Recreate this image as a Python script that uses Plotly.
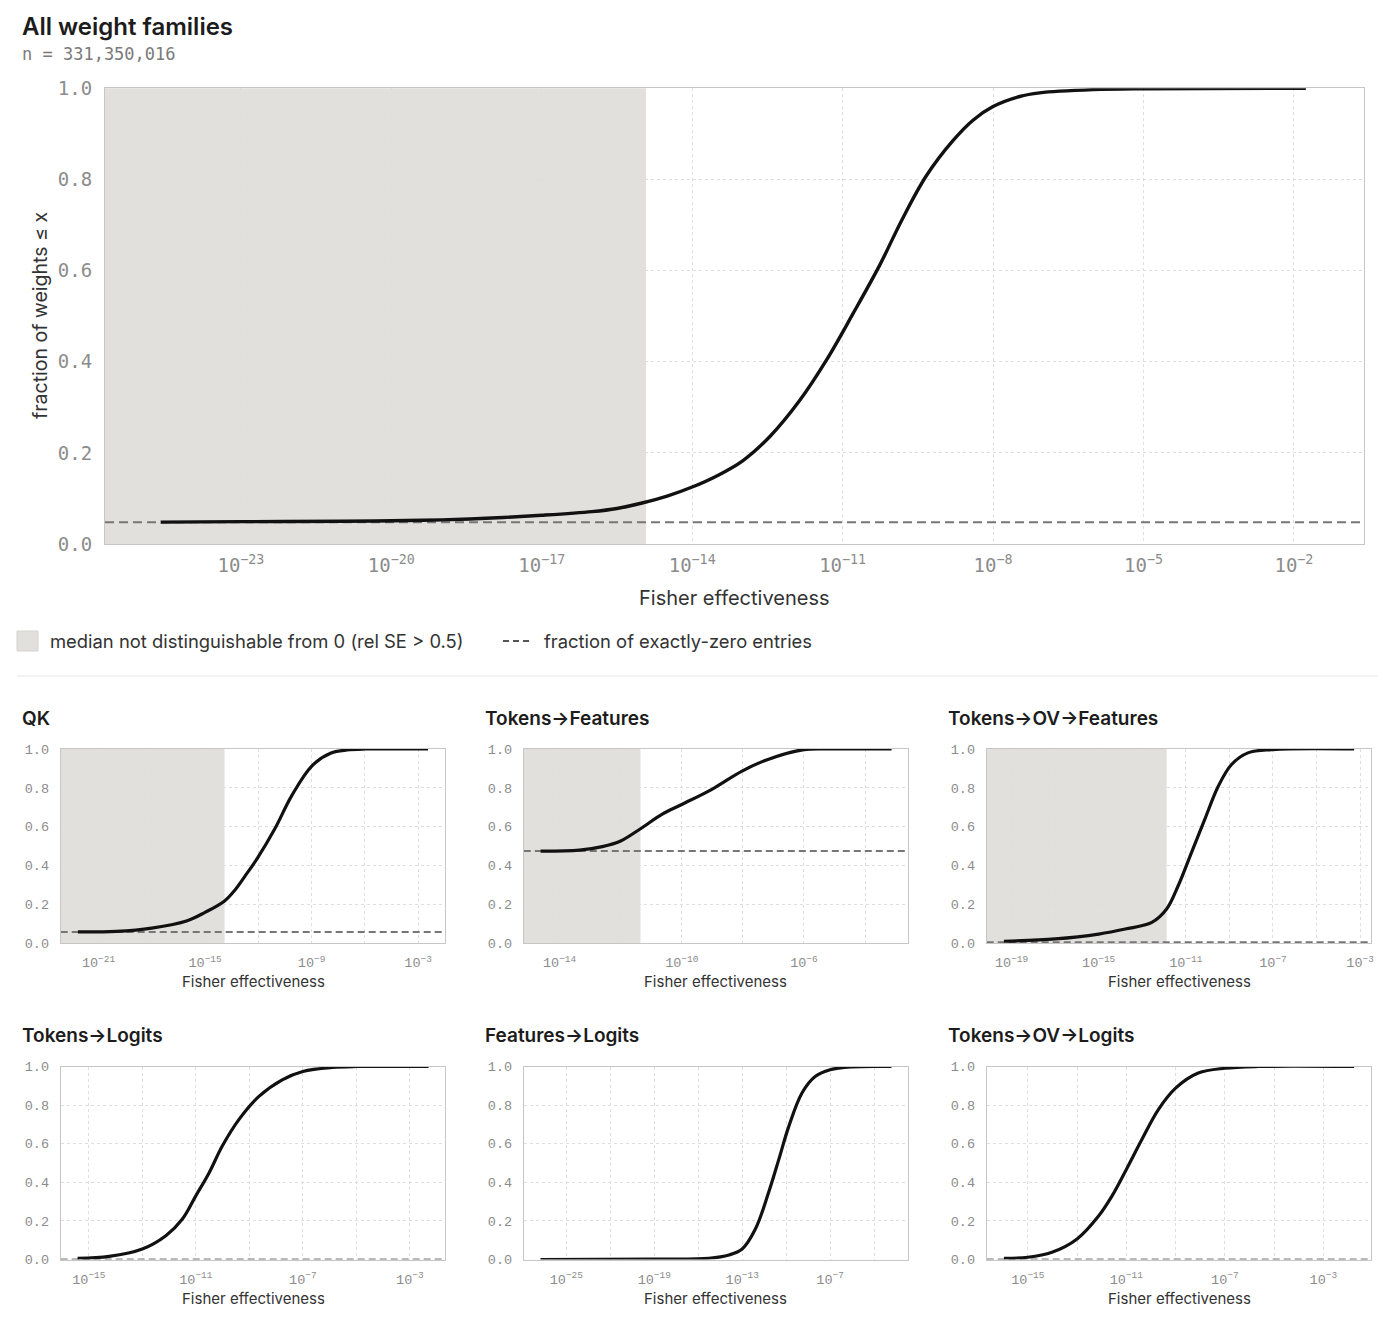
import plotly.graph_objects as go

W, H = 1386, 1332
PAGE_MARGIN = 8  # the browser puts an 8px body margin round the plot div

# ---- data (x given as log10 of Fisher effectiveness) ----
all_exp = [-24.6, -23, -21, -20, -19, -18, -17, -16, -15.5, -15, -14.5, -14, -13.5,
           -13, -12.45, -11.85, -11.32, -10.79, -10.26, -9.8, -9.33, -8.8, -8.4, -8,
           -7.47, -7.07, -6, -5, -1.76]
all_frac = [0.048, 0.049, 0.050, 0.051, 0.053, 0.057, 0.063, 0.071, 0.078, 0.090,
            0.105, 0.125, 0.150, 0.182, 0.236, 0.316, 0.404, 0.506, 0.612, 0.715,
            0.808, 0.885, 0.93, 0.96, 0.982, 0.99, 0.997, 0.999, 1.0]
all_zero = 0.048
all_shade = -14.92
all_n = "331,350,016"

qk_exp = [-22.16, -20, -18, -16, -15, -13.9, -13.3, -12.74, -12.03, -11.06, -10.13,
          -9.0, -7.9, -7.0, -6.0, -2.44]
qk_frac = [0.057, 0.060, 0.077, 0.115, 0.158, 0.217, 0.275, 0.346, 0.44, 0.59, 0.757,
           0.911, 0.979, 0.995, 1.0, 1.0]
qk_zero = 0.057
qk_shade = -13.9

tf_exp = [-14.62, -13.35, -12.6, -12.0, -11.35, -10.65, -10, -9.03, -8.04, -7.2, -6,
          -4.97, -3.13]
tf_frac = [0.474, 0.479, 0.497, 0.526, 0.589, 0.663, 0.714, 0.791, 0.885, 0.945, 0.997,
           1.0, 1.0]
tf_zero = 0.474
tf_shade = -11.35

tovf_exp = [-19.35, -16.99, -15, -13.78, -12.56, -11.88, -11.35, -10.74, -10.13, -9.51,
            -8.9, -8.15, -7, -3.27]
tovf_frac = [0.009, 0.021, 0.046, 0.072, 0.106, 0.175, 0.295, 0.466, 0.637, 0.808,
             0.92, 0.98, 0.997, 1.0]
tovf_zero = 0.004
tovf_shade = -11.88

tl_exp = [-15.42, -14.24, -13, -12.12, -11.5, -11, -10.5, -10.01, -9.39, -8.64, -7.77,
          -7, -5.9, -5, -2.3]
tl_frac = [0.007, 0.017, 0.055, 0.124, 0.21, 0.33, 0.45, 0.588, 0.725, 0.845, 0.931,
           0.974, 0.995, 1.0, 1.0]
tl_zero = 0.001
tl_shade = None

fl_exp = [-26.76, -19, -15.27, -13.9, -13, -12.1, -11.2, -10.5, -9.82, -8.92, -8.02,
          -7, -5.53, -2.81]
fl_frac = [0.0, 0.003, 0.007, 0.024, 0.055, 0.158, 0.347, 0.519, 0.69, 0.863, 0.948,
           0.983, 0.998, 1.0]
fl_zero = None
fl_shade = None

tovl_exp = [-15.97, -15, -14.02, -13, -12.12, -11.58, -11, -10.37, -9.7, -9, -8.08, -7,
            -5.65, -1.75]
tovl_frac = [0.007, 0.012, 0.038, 0.107, 0.227, 0.33, 0.467, 0.622, 0.777, 0.888, 0.966,
             0.991, 1.0, 1.0]
tovl_zero = 0.001
tovl_shade = None

families = ["QK", "Tokens→Features", "Tokens→OV→Features",
            "Tokens→Logits", "Features→Logits", "Tokens→OV→Logits"]
family_data = [
    (qk_exp, qk_frac, qk_zero, qk_shade),
    (tf_exp, tf_frac, tf_zero, tf_shade),
    (tovf_exp, tovf_frac, tovf_zero, tovf_shade),
    (tl_exp, tl_frac, tl_zero, tl_shade),
    (fl_exp, fl_frac, fl_zero, fl_shade),
    (tovl_exp, tovl_frac, tovl_zero, tovl_shade),
]

# tick exponents: gridlines and which of them get a label
all_grid = [-23, -20, -17, -14, -11, -8, -5, -2]
all_labels = all_grid
family_grid = [
    [-21, -18, -15, -12, -9, -6, -3],
    [-14, -12, -10, -8, -6, -4],
    [-19, -17, -15, -13, -11, -9, -7, -5, -3],
    [-15, -13, -11, -9, -7, -5, -3],
    [-25, -22, -19, -16, -13, -10, -7, -4],
    [-15, -13, -11, -9, -7, -5, -3],
]
family_labels = [
    [-21, -15, -9, -3],
    [-14, -10, -6],
    [-19, -15, -11, -7, -3],
    [-15, -11, -7, -3],
    [-25, -19, -13, -7],
    [-15, -11, -7, -3],
]
y_ticks = [0, 0.2, 0.4, 0.6, 0.8, 1.0]

# ---- layout (pixel boxes in window coords, axis ranges in log10 units) ----
all_box = (105, 1363.6, 88.3, 544)
all_range = (-25.71, -0.61)
cols = [(60.7, 445.4), (523.8, 908.1), (986.7, 1371.4)]
rows = [(749, 943), (1066.5, 1259.6)]
family_range = [(-23.13, -1.46), (-15.17, -2.59), (-20.14, -2.48),
                (-16.05, -1.67), (-27.9, -1.68), (-16.67, -1.05)]

SANS = "Inter, Noto Sans, sans-serif"
MONO_BIG = "DejaVu Sans Mono, monospace"
MONO_SMALL = "Liberation Mono, Courier New, monospace"
INK = "#1c1c1c"
TEXT = "#333333"
TICK = "#8c8c8c"
GRID = "#dedede"
FRAME = "#c6c6c6"
SHADE = "#e1e0dc"
ZERO_LINE = "#767676"

FW, FH = W - 2 * PAGE_MARGIN, H - 2 * PAGE_MARGIN


def fx(p):
    return (p - PAGE_MARGIN) / FW


def fy(p):
    return 1 - (p - PAGE_MARGIN) / FH


fig = go.Figure()
layout = dict(width=FW, height=FH, autosize=False, margin=dict(l=0, r=0, t=0, b=0, pad=0),
              paper_bgcolor="white", plot_bgcolor="white", showlegend=False)
shapes = []
annotations = []


def axis_common(fsize, mono, standoff):
    return dict(showgrid=True, gridcolor=GRID, griddash="3px,3px", gridwidth=1,
                showline=True, mirror=True, linecolor=FRAME, linewidth=1,
                zeroline=False, ticks="", ticklabelstandoff=standoff, automargin=False,
                tickfont=dict(family=mono, size=fsize, color=TICK))


def add_panel(i, exp, frac, zero, shade, box, xrng, grid, labels, fsize, mono, lw, dash, standoff):
    xa, ya = ("x", "y") if i == 1 else (f"x{i}", f"y{i}")
    l, r, t, b = box
    minor_vals = [10.0 ** g for g in grid if g not in labels]
    layout["xaxis" if i == 1 else f"xaxis{i}"] = dict(
        domain=[fx(l), fx(r)], anchor=ya, type="log", range=list(xrng),
        tickmode="array", tickvals=[10.0 ** g for g in labels],
        ticktext=[f"10<sup>−{-g}</sup>" for g in labels],
        minor=dict(tickmode="array", tickvals=minor_vals, showgrid=True, ticks="",
                   gridcolor=GRID, griddash="3px,3px", gridwidth=1),
        **axis_common(fsize, mono, standoff[0]))
    layout["yaxis" if i == 1 else f"yaxis{i}"] = dict(
        domain=[fy(b), fy(t)], anchor=xa, range=[0, 1], tickmode="array",
        tickvals=y_ticks, ticktext=[f"{v:.1f}" for v in y_ticks],
        **axis_common(fsize, mono, standoff[1]))
    if shade is not None:
        shapes.append(dict(type="rect", xref=f"{xa} domain", yref=f"{ya} domain",
                           x0=0, x1=(shade - xrng[0]) / (xrng[1] - xrng[0]), y0=0, y1=1,
                           fillcolor=SHADE, line=dict(width=0), layer="below"))
    if zero is not None:
        # exactly-zero fraction, drawn across the whole axis range under the curve
        fig.add_trace(go.Scatter(x=[10.0 ** xrng[0], 10.0 ** xrng[1]], y=[zero, zero],
                                 mode="lines", line=dict(color=ZERO_LINE, width=2, dash=dash),
                                 xaxis=xa, yaxis=ya, hoverinfo="skip"))
    fig.add_trace(go.Scatter(x=[10.0 ** e for e in exp], y=frac, mode="lines",
                             line=dict(color="#111111", width=lw, shape="spline", smoothing=1.0),
                             cliponaxis=False, xaxis=xa, yaxis=ya, hoverinfo="skip"))


# main chart
add_panel(1, all_exp, all_frac, all_zero, all_shade, all_box, all_range,
          all_grid, all_labels, 19, MONO_BIG, 3.4, "9px,5px", (4, 8))

annotations += [
    dict(text="All weight families", x=fx(20), y=fy(27), xanchor="left", yanchor="middle",
         font=dict(family=SANS, size=24, color=INK, weight=600)),
    dict(text=f"n = {all_n}", x=fx(20), y=fy(54), xanchor="left", yanchor="middle",
         font=dict(family=MONO_BIG, size=17, color="#7a7a7a")),
    dict(text="fraction of weights ≤ x", x=fx(40), y=fy(316), textangle=-90,
         xanchor="center", yanchor="middle", font=dict(family=SANS, size=19.5, color=TEXT)),
    dict(text="Fisher effectiveness", x=fx(734), y=fy(598), xanchor="center",
         yanchor="middle", font=dict(family=SANS, size=20, color=TEXT)),
    dict(text="median not distinguishable from 0 (rel SE > 0.5)", x=fx(48), y=fy(641),
         xanchor="left", yanchor="middle", font=dict(family=SANS, size=18.4, color=TEXT)),
    dict(text="fraction of exactly-zero entries", x=fx(542), y=fy(641),
         xanchor="left", yanchor="middle", font=dict(family=SANS, size=18.4, color=TEXT)),
]
shapes += [
    dict(type="rect", xref="paper", yref="paper", x0=fx(17), x1=fx(38), y0=fy(651), y1=fy(631),
         fillcolor=SHADE, line=dict(color="#d4d3cf", width=1)),
    dict(type="line", xref="paper", yref="paper", x0=fx(503), x1=fx(531), y0=fy(641), y1=fy(641),
         line=dict(color="#555555", width=2, dash="6px,4px")),
    dict(type="line", xref="paper", yref="paper", x0=fx(17), x1=1, y0=fy(676), y1=fy(676),
         line=dict(color="#e6e6e6", width=1)),
]

# small multiples
for k, name in enumerate(families):
    exp, frac, zero, shade = family_data[k]
    (l, r), (t, b) = cols[k % 3], rows[k // 3]
    add_panel(k + 2, exp, frac, zero, shade, (l, r, t, b), family_range[k],
              family_grid[k], family_labels[k], 13.5, MONO_SMALL, 3.2, "7px,4px", (7, 8))
    annotations += [
        dict(text=name, x=fx(l - 41), y=fy(t - 31), xanchor="left", yanchor="middle",
             font=dict(family=SANS, size=19, color=INK, weight=600)),
        dict(text="Fisher effectiveness", x=fx((l + r) / 2), y=fy(b + 39), xanchor="center",
             yanchor="middle", font=dict(family=SANS, size=15, color=TEXT)),
    ]

for a in annotations:
    a.update(xref="paper", yref="paper", showarrow=False)
layout["shapes"] = shapes
layout["annotations"] = annotations
fig.update_layout(**layout)

fig.write_html("out.html")
